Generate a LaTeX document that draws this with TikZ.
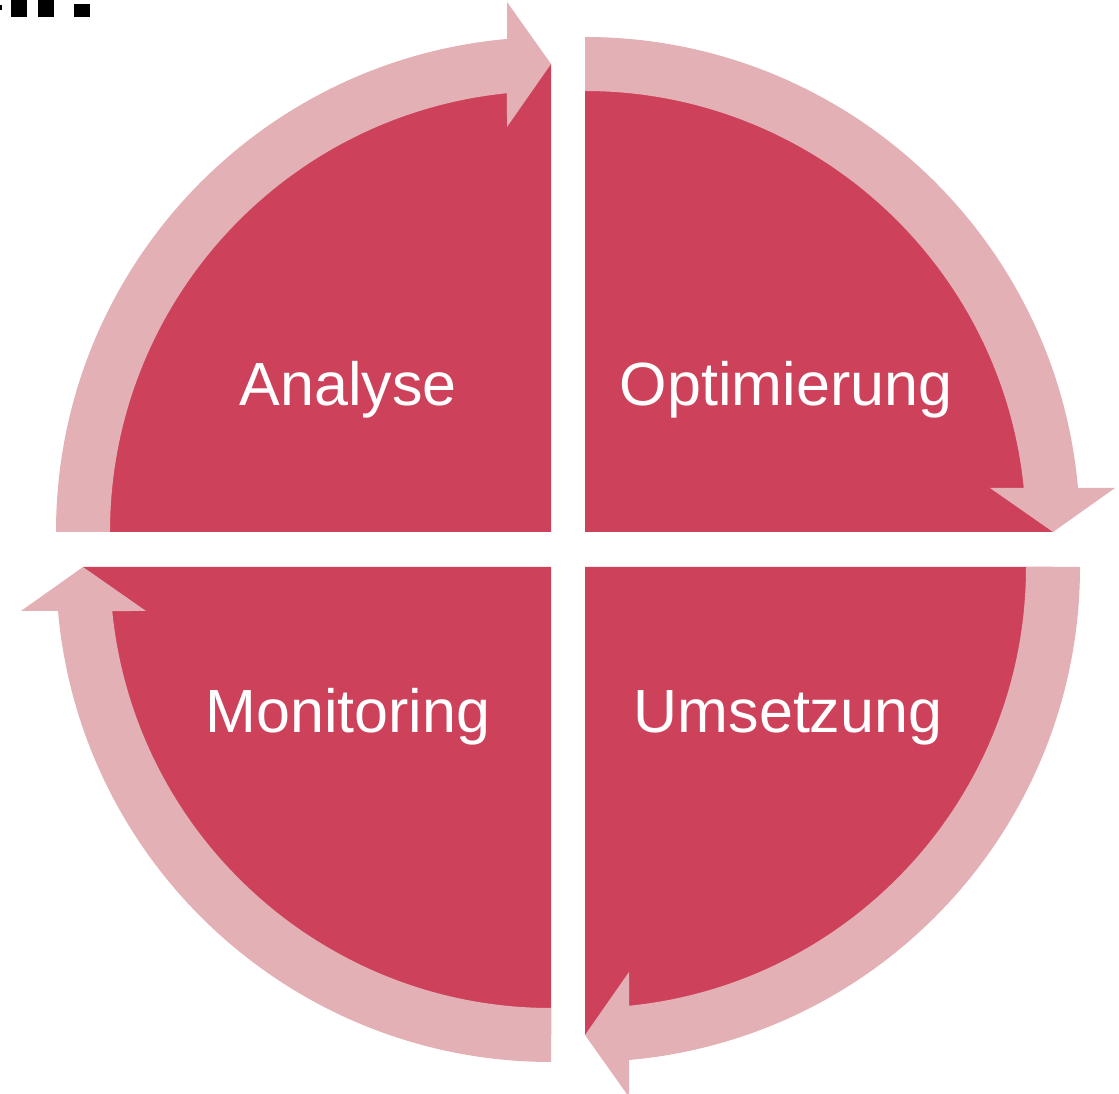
\documentclass[tikz,border=0pt]{standalone}
\usepackage{fontspec}
\setmainfont{Liberation Sans}
\definecolor{sectorred}{RGB}{205,66,90}
\definecolor{bandpink}{RGB}{227,176,181}
\tikzset{
  sector/.style={fill=sectorred},
  band/.style={fill=bandpink},
  label/.style={text=white,anchor=base,inner sep=0pt,font=\fontsize{61}{61}\selectfont},
  cropmark/.style={fill=black}
}
\newcommand\cyclearrow[2]{%
  \begin{scope}[shift={#1},rotate=#2]
    \fill[band] (180:441) arc[start angle=180,end angle=95.73,radius=441]
      -- (-44,405) -- (0,468) -- (-44,530) -- (95.10:495)
      arc[start angle=95.10,end angle=180,radius=495] -- cycle;
  \end{scope}}
\newcommand\quadsector[3]{%
  \fill[sector] #1 -- ++(#2:468) arc[start angle=#2,end angle=#3,radius=468] -- cycle;}
\begin{document}
\begin{tikzpicture}[x=1pt,y=1pt]
\useasboundingbox (0,0) rectangle (1119,1094);
% sectors
\quadsector{(551,562)}{90}{180}
\quadsector{(585,562)}{0}{90}
\quadsector{(585,527)}{-90}{0}
\quadsector{(551,527)}{180}{270}
% arrows
\cyclearrow{(551,562)}{0}
\cyclearrow{(585,562)}{-90}
\cyclearrow{(585,527)}{-180}
\cyclearrow{(551,527)}{90}
% labels
\node[label] (analyse) at (348,688) {Analyse};
\node[label] (optimierung) at (786,688) {Optimierung};
\node[label] (monitoring) at (348,361) {Monitoring};
\node[label] (umsetzung) at (788,361) {Umsetzung};
% cropped marks at top left
\fill[cropmark] (0,1084) rectangle (2,1089);
\fill[cropmark] (11,1077) rectangle (27,1094);
\fill[cropmark] (38,1077) rectangle (54,1094);
\fill[cropmark] (74,1077) rectangle (90,1090);
\end{tikzpicture}
\end{document}
